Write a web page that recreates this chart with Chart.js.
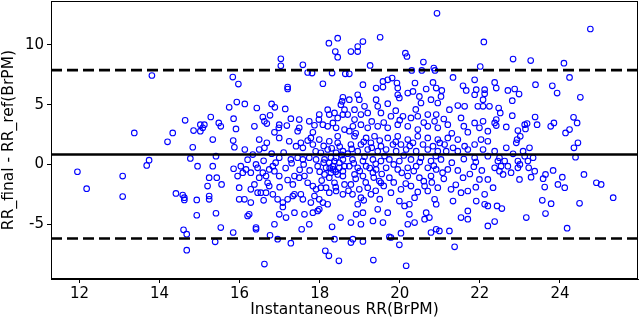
<!DOCTYPE html>
<html>
<head>
<meta charset="utf-8">
<script src="https://cdn.jsdelivr.net/npm/chart.js@4"></script>
<style>
  html, body { margin: 0; padding: 0; background: #fff; }
  #wrap { width: 640px; height: 319px; }
</style>
</head>
<body>
<div id="wrap"><canvas id="baChart" width="640" height="319"></canvas></div>
<script>
// ── DATA ──
const xTicks = [12, 14, 16, 18, 20, 22, 24];
const yTicks = [-5, 0, 5, 10];
const xRange = [11.29, 25.95];
const yRange = [-9.58, 13.67];

const meanDiff = 0.83;
const upperLoA = 7.89;
const lowerLoA = -6.19;

// [instantaneous RR, RR_final - RR_ref]
const pairs = [
  // low RR side
  [13.81,7.44],[14.64,3.69],[14.85,2.83],[15.02,3.33],[15.02,2.78],[14.33,2.64],[13.37,2.64],
  [14.2,1.89],[14.83,1.44],[14.77,0.5],[14.95,-0.14],[13.74,0.36],[13.68,-0.08],[11.95,-0.61],
  [12.18,-2.03],[13.08,-0.97],[13.08,-2.69],[14.41,-2.42],[14.58,-2.56],[14.62,-2.78],[14.62,-2.97],
  [14.93,-2.97],[14.93,-4.25],[14.6,-5.47],[14.68,-5.83],[14.68,-7.17],
  // 15-18.7, upper half
  [18.45,10.56],[18.23,10.14],[18.39,9.44],[18.45,8.97],[17.03,8.83],[17.03,8.25],[17.58,8.33],
  [17.7,7.69],[17.81,7.64],[18.31,7.64],[18.64,7.58],[15.83,7.31],[15.97,6.72],[17.2,6.47],
  [17.2,6.31],[18.08,6.75],[18.58,5.61],[18.56,5.28],[15.93,5.22],[15.74,4.78],[16.13,5.06],
  [16.43,4.72],[16.8,5.06],[16.88,4.78],[17.14,4.64],[15.28,3.97],[15.48,3.47],[15.53,3.19],
  [15.85,3.83],[15.91,2.97],[16.37,3.19],[16.58,3.97],[16.62,3.61],[16.76,4.11],[16.68,3.42],
  [16.99,3.33],[16.98,3.06],[17.28,3.83],[17.18,3.25],[17.49,3.75],[17.49,3.06],[17.74,3.61],
  [17.87,3.28],[17.99,4.17],[17.98,3.75],[18.2,4.58],[18.24,4.17],[18.37,4.31],[18.45,3.89],
  [18.53,5.0],[18.62,4.58],[18.58,4.17],[18.33,3.47],[18.2,3.19],[18.08,3.33],[18.41,3.06],
  [18.62,2.92],[15.08,3.06],[15.12,3.33],[16.87,2.69],[17.45,2.78],[17.83,2.69],
  // 18.7-22.3, upper half
  [20.93,12.64],[19.51,10.64],[19.08,10.28],[18.95,9.86],[18.78,9.44],[18.95,9.44],[22.1,10.25],
  [20.14,9.31],[20.18,9.03],[20.59,8.56],[19.26,8.28],[20.3,7.86],[20.55,7.86],[20.85,8.06],
  [20.88,7.86],[22.01,8.19],[18.74,7.58],[21.33,7.28],[21.87,7.08],[19.81,7.22],[19.58,6.94],
  [19.7,7.08],[19.93,6.81],[20.38,6.81],[20.83,6.86],[19.08,6.67],[19.41,6.39],[19.58,6.47],
  [19.95,6.39],[20.2,5.97],[20.33,6.11],[20.66,6.31],[20.91,6.39],[21.05,6.19],[21.58,6.58],
  [21.66,6.19],[21.91,6.25],[22.12,6.25],[22.12,5.92],[18.95,5.83],[18.99,5.42],[18.74,5.42],
  [19.41,5.42],[19.95,5.83],[19.99,5.56],[20.49,5.69],[20.78,5.42],[21.03,5.69],[20.95,5.14],
  [20.53,5.14],[21.24,4.58],[21.62,4.86],[21.45,4.92],[21.95,4.86],[22.08,4.86],[22.24,4.86],
  [22.08,5.42],[21.87,5.83],[19.7,5.08],[19.45,4.86],[19.12,4.86],[18.87,4.58],[19.2,4.31],
  [19.03,4.17],[18.87,3.75],[18.7,4.17],[19.53,4.31],[19.78,4.03],[20.08,4.03],[20.28,3.89],
  [20.45,4.03],[20.7,4.17],[20.91,4.17],[20.87,3.61],[21.2,3.33],[21.53,3.89],[21.87,3.47],
  [22.08,3.61],[21.99,3.06],[22.2,2.78],[19.2,3.06],[19.03,3.33],[19.45,3.19],[19.7,3.06],
  [19.95,3.33],[20.2,3.19],[20.45,2.92],[20.7,3.19],[20.95,3.06],[18.83,3.19],[18.74,2.78],
  [19.3,3.6],[19.6,3.5],[20.0,3.7],[20.6,3.5],[21.1,3.8],[21.6,3.2],[19.9,4.5],[20.4,4.6],
  [18.9,2.6],[21.3,2.6],[21.7,2.7],
  // high RR side, upper half
  [24.76,11.33],[22.83,8.81],[23.27,8.69],[24.1,8.47],[24.24,7.28],[22.37,6.86],[22.41,6.39],
  [22.7,6.19],[22.87,6.31],[22.98,5.89],[23.39,6.67],[23.81,6.58],[23.93,5.97],[24.51,5.61],
  [22.81,5.33],[22.47,4.72],[22.51,4.31],[22.81,4.08],[23.38,3.97],[22.41,3.75],[22.37,3.47],
  [22.41,3.25],[22.66,3.14],[23.12,3.33],[23.18,3.42],[23.43,3.33],[23.14,2.97],[22.95,2.83],
  [23.85,3.47],[23.77,3.19],[24.34,3.94],[24.43,3.47],[24.24,2.92],[24.14,2.64],
  // 15-18.7, lower half
  [15.33,2.08],[15.84,2.0],[15.87,1.44],[16.13,1.25],[16.49,2.08],[16.49,1.25],[16.62,1.39],
  [16.33,0.83],[16.68,1.81],[16.99,2.22],[17.24,1.94],[17.41,1.53],[17.53,1.81],[17.58,1.39],
  [17.78,2.22],[17.83,1.67],[17.99,2.08],[18.24,1.94],[18.2,1.25],[18.45,1.81],[18.45,2.36],
  [18.58,1.11],[18.03,0.97],[18.41,0.97],[15.41,0.69],[16.99,0.56],[17.28,0.42],[17.45,0.56],
  [17.58,0.42],[17.74,0.56],[17.91,0.42],[18.12,0.42],[18.24,0.14],[18.37,0.28],[18.58,0.42],
  [17.95,-0.14],[18.16,-0.28],[18.33,-0.14],[18.49,-0.28],[18.62,-0.14],[18.28,-0.69],[18.45,-0.83],
  [18.24,-1.11],[18.58,-0.97],[18.37,-1.53],[18.62,-1.67],[15.33,-0.14],[15.24,-1.11],[15.43,-1.11],
  [15.55,-1.67],[15.2,-1.81],[15.85,-0.36],[16.03,-0.14],[16.08,-0.69],[15.95,-0.97],[16.16,-0.42],
  [16.41,0.0],[16.45,-0.28],[16.28,-0.69],[16.58,-0.69],[16.49,-1.11],[16.66,-0.97],[16.74,-0.42],
  [16.83,-0.14],[16.87,-0.56],[16.99,-0.97],[16.7,-1.53],[16.74,-1.81],[16.37,-1.67],[15.99,-1.94],
  [16.28,-2.08],[17.37,-0.97],[17.49,-1.11],[17.62,-0.97],[17.33,-1.67],[17.83,-1.81],[17.7,-1.53],
  [17.91,-2.08],[18.03,-1.94],[18.16,-1.94],[18.24,-2.36],[18.41,-2.22],[18.58,-2.5],[15.24,-2.64],
  [15.24,-2.92],[15.99,-2.92],[16.12,-2.92],[16.45,-2.36],[16.53,-2.36],[16.66,-2.36],[16.83,-2.5],
  [16.28,-3.19],[16.95,-2.92],[17.08,-3.19],[17.08,-3.56],[17.2,-2.92],[17.33,-2.64],[17.37,-2.5],
  [17.53,-2.5],[17.58,-2.92],[17.78,-3.19],[17.87,-2.64],[17.99,-2.92],[18.08,-3.19],[18.2,-3.33],
  [17.99,-3.75],[17.83,-4.03],[17.95,-3.89],[17.62,-4.17],[17.37,-4.03],[16.99,-4.17],[17.16,-4.44],
  [15.41,-4.08],[16.2,-4.31],[16.24,-4.17],[16.87,-5.0],[16.41,-5.28],[16.41,-5.42],[15.53,-5.28],
  [15.84,-5.69],[17.55,-5.42],[17.74,-5.0],[18.31,-5.22],[18.52,-4.44],[18.37,-6.25],[15.39,-6.47],
  [16.76,-5.92],[16.95,-6.25],[17.28,-6.58],[18.14,-7.22],[18.23,-7.64],[18.48,-8.06],[16.62,-8.33],
  [18.28,0.56],[18.41,0.56],[18.49,0.14],[18.33,-0.42],[18.58,-0.56],[18.12,-0.83],
  [17.6,0.0],[17.75,-0.5],[17.9,1.1],[18.0,-0.6],[18.1,0.15],[18.25,-0.3],[18.4,-0.6],
  [18.55,0.8],[17.7,2.0],[18.1,1.55],[18.3,1.35],[18.5,1.5],[17.5,-0.45],[18.05,-1.35],
  [18.4,-1.9],[16.6,0.3],[16.9,0.15],[17.15,-0.3],[17.3,0.1],[16.2,0.4],[17.1,1.0],
  [16.8,0.9],[17.0,-1.9],[17.2,-1.3],[16.6,-3.0],
  // 18.7-22.3, lower half
  [18.87,2.36],[19.16,2.22],[19.37,2.36],[19.7,2.22],[19.95,2.36],[20.2,2.08],[20.45,2.36],
  [20.7,2.22],[20.95,2.08],[21.2,2.22],[21.45,2.08],[22.03,2.08],[22.2,1.94],
  [18.78,1.67],[19.03,1.67],[19.28,1.81],[19.53,1.53],[19.83,1.67],[20.03,1.67],[20.33,1.81],
  [20.58,1.67],[20.83,1.53],[21.12,1.67],[21.33,1.39],[21.62,1.53],[21.87,1.67],
  [18.95,1.11],[19.2,1.25],[19.45,1.11],[19.66,1.25],[19.91,1.11],[20.16,1.25],[20.41,1.11],
  [20.7,1.25],[20.95,1.11],[21.16,1.11],[21.45,1.11],[21.7,1.25],[22.08,1.25],
  [18.82,0.42],[19.08,0.28],[19.33,0.42],[19.53,0.28],[19.74,0.42],[19.99,0.28],[20.28,0.42],
  [20.53,0.56],[20.78,0.28],[21.03,0.42],[21.87,0.56],[22.2,0.69],[21.85,-0.19],
  [18.74,-0.14],[18.95,-0.28],[19.16,-0.14],[19.41,-0.42],[19.66,-0.28],[19.95,-0.42],[20.2,-0.28],
  [20.41,-0.14],[20.7,-0.28],[20.91,-0.42],[21.2,-0.42],
  [18.87,-0.83],[19.08,-0.97],[19.33,-0.69],[19.49,-1.39],[19.53,-1.53],[19.74,-1.11],[20.2,-0.97],
  [20.49,-1.11],[20.78,-0.97],[21.07,-0.69],[21.58,-1.11],[21.99,-1.25],[22.2,-1.25],
  [18.78,-1.67],[18.99,-2.08],[19.2,-1.94],[18.82,-2.5],[19.03,-2.78],[19.28,-2.5],[19.78,-2.36],
  [20.03,-2.08],[20.28,-1.81],[20.62,-1.81],[20.7,-2.22],[20.95,-1.94],[21.28,-2.08],[21.53,-2.36],
  [21.7,-2.22],[21.91,-3.06],[22.12,-2.5],[22.2,-3.47],[22.12,-3.33],[21.33,-3.06],[20.91,-3.33],
  [20.87,-2.92],[19.99,-3.06],[20.12,-3.47],[20.24,-3.33],[20.37,-2.78],[20.24,-4.17],
  [18.95,-3.33],[18.91,-4.17],[19.08,-4.03],[19.45,-3.75],[19.7,-4.03],[18.78,-4.86],[19.03,-5.0],
  [19.33,-4.72],[19.58,-4.86],[20.2,-5.0],[20.37,-4.86],[20.62,-4.58],[20.66,-4.03],[20.74,-4.44],
  [21.53,-4.44],[21.7,-3.89],[21.7,-4.58],[22.2,-5.14],
  [20.78,-5.69],[20.91,-5.42],[20.99,-5.56],[21.24,-5.56],[20.03,-5.75],[19.78,-6.11],
  [18.78,-6.53],[18.83,-6.25],[19.08,-6.44],[19.74,-6.06],[19.99,-6.72],[21.37,-6.89],[19.34,-8.0],
  [20.16,-8.47],
  [18.7,0.9],[18.85,0.1],[19.0,-0.55],[19.12,0.65],[19.25,-0.3],[19.4,0.05],[19.55,-0.8],
  [19.62,0.7],[18.9,-1.2],[19.15,-1.5],[19.35,-1.1],[19.6,-1.8],[18.72,-2.2],[19.4,-2.2],
  [19.5,-2.9],[19.1,-3.0],[18.8,1.3],[19.1,1.9],[19.3,1.4],[19.5,2.0],
  [19.85,0.0],[20.05,-0.7],[20.1,0.75],[20.35,-0.55],[20.5,0.2],[20.6,-1.4],[20.85,-0.1],
  [20.9,0.7],[19.85,-1.5],[20.15,-1.6],[20.45,-2.3],[20.8,-1.5],[21.0,1.8],[20.25,1.55],
  [19.9,1.9],[21.1,-1.2],[21.3,0.15],[21.45,-0.5],[21.6,0.45],[21.75,-0.8],[21.9,0.2],
  [22.05,-0.5],[21.4,-1.7],[21.9,-1.9],
  // high RR side, lower half
  [24.45,1.81],[24.35,1.39],[24.39,0.61],[22.93,2.08],[23.01,2.36],[22.91,1.81],[22.66,1.39],
  [22.37,1.11],[23.08,1.11],[23.24,1.39],[22.83,0.89],[22.49,0.56],[22.45,0.28],[22.62,0.28],
  [22.37,-0.28],[22.53,-0.14],[22.7,-0.14],[22.49,-0.56],[22.58,-0.83],[22.78,-0.69],[22.95,0.28],
  [22.95,-0.28],[23.0,0.0],[23.12,0.69],[23.2,0.28],[23.33,0.56],[23.22,-0.28],[23.37,-0.56],
  [23.28,-1.06],[22.99,-1.25],[23.64,-0.83],[23.58,-1.19],[23.83,-0.5],[24.06,-1.06],[23.95,-1.67],
  [24.12,-1.94],[23.62,-1.89],[24.6,-0.83],[24.91,-1.53],[25.03,-1.67],[25.33,-2.78],[24.49,-3.25],
  [23.78,-3.28],[23.56,-3.0],[23.64,-4.11],[23.16,-4.44],[22.43,-3.47],[22.55,-3.69],[22.37,-4.78],
  [24.18,-5.33],[22.33,-1.94]
];

// ── FRAME (matplotlib-style box round the axes) ──
const frame = {
  id: 'frame',
  afterDraw(chart) {
    const { ctx, chartArea: a } = chart;
    ctx.save();
    ctx.strokeStyle = '#000';
    ctx.lineWidth = 1;
    ctx.strokeRect(a.left + 0.5, a.top + 0.5, a.right - a.left - 1, a.bottom - a.top - 1);
    ctx.restore();
  }
};

const hline = (y, dash) => ({
  type: 'line',
  data: [{ x: xRange[0], y }, { x: xRange[1], y }],
  borderColor: '#000',
  borderWidth: 2.6,
  borderDash: dash,
  pointRadius: 0,
  fill: false,
  order: 0
});

const font = { family: "'DejaVu Sans', sans-serif", size: 15 };
const titleFont = { family: "'DejaVu Sans', sans-serif", size: 15.5 };

new Chart(document.getElementById('baChart'), {
  type: 'scatter',
  data: {
    datasets: [
      {
        data: pairs.map(([x, y]) => ({ x, y })),
        borderColor: '#0000ff',
        backgroundColor: 'rgba(0,0,0,0)',
        pointRadius: 2.8,
        pointBorderWidth: 1.1,
        order: 1
      },
      hline(meanDiff, []),
      hline(upperLoA, [11, 5]),
      hline(lowerLoA, [11, 5])
    ]
  },
  options: {
    responsive: false,
    animation: false,
    devicePixelRatio: 1,
    layout: { autoPadding: false, padding: { top: 1, right: 2, left: 0, bottom: 0 } },
    plugins: { legend: { display: false }, tooltip: { enabled: false } },
    scales: {
      x: {
        type: 'linear',
        min: xRange[0],
        max: xRange[1],
        afterBuildTicks: s => { s.ticks = xTicks.map(v => ({ value: v })); },
        afterFit: s => { s.height = 40; s.paddingLeft = 0; s.paddingRight = 0; },
        grid: { drawOnChartArea: false, tickLength: 4, color: '#000' },
        border: { color: '#000' },
        ticks: { color: '#000', font, padding: 2, maxRotation: 0 },
        title: {
          display: true,
          text: 'Instantaneous RR(BrPM)',
          color: '#000',
          font: titleFont,
          padding: { top: 0, bottom: 0 }
        }
      },
      y: {
        type: 'linear',
        min: yRange[0],
        max: yRange[1],
        afterBuildTicks: s => { s.ticks = yTicks.map(v => ({ value: v })); },
        afterFit: s => { s.width = 51; s.paddingTop = 0; s.paddingBottom = 0; },
        grid: { drawOnChartArea: false, tickLength: 4, color: '#000' },
        border: { color: '#000' },
        ticks: { color: '#000', font, padding: 3 },
        title: {
          display: true,
          text: 'RR_final - RR_ref(BrPM)',
          color: '#000',
          font: titleFont,
          padding: { top: 0, bottom: 0 }
        }
      }
    }
  },
  plugins: [frame]
});
</script>
</body>
</html>
